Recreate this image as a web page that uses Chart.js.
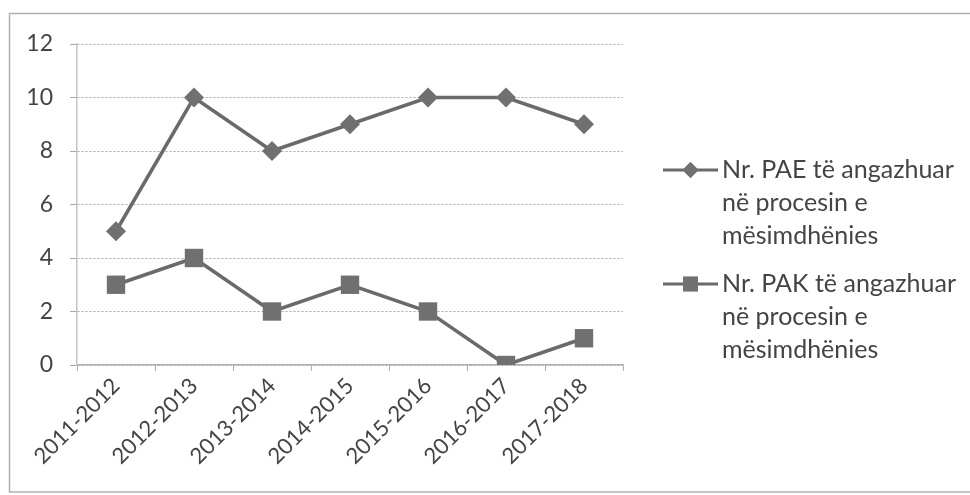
<!DOCTYPE html>
<html>
<head>
<meta charset="utf-8">
<script src="https://cdn.jsdelivr.net/npm/chart.js@4.4.1/dist/chart.umd.min.js"></script>
<style>
    html, body { margin: 0; padding: 0; background: #fff; }
    #wrap { width: 970px; height: 495px; position: relative; }
</style>
</head>
<body>
<div id="wrap"><canvas id="chart" width="970" height="495"></canvas></div>
<script>
// -----------------------------
// DATA
// -----------------------------
const years = ["2011-2012", "2012-2013", "2013-2014", "2014-2015", "2015-2016", "2016-2017", "2017-2018"];
const paeValues = [5, 10, 8, 9, 10, 10, 9];
const pakValues = [3, 4, 2, 3, 2, 0, 1];
const paeLegend = ["Nr. PAE të angazhuar", "në procesin e", "mësimdhënies"];
const pakLegend = ["Nr. PAK të angazhuar", "në procesin e", "mësimdhënies"];

const FONT = "Lato";
const TEXT = "#444";
const LINE = "#6a6a6a";

// -----------------------------
// FRAME + WHITE BACKGROUND
// -----------------------------
const framePlugin = {
    id: "frame",
    beforeDraw(chart) {
        const ctx = chart.ctx;
        ctx.save();
        ctx.fillStyle = "#fff";
        ctx.fillRect(0, 0, chart.width, chart.height);
        ctx.strokeStyle = "#b0b0b0";
        ctx.lineWidth = 1.5;
        ctx.strokeRect(9.5, 13.5, chart.width + 10, 478.5);
        ctx.restore();
    }
};

// -----------------------------
// LEGEND (multi-line labels)
// -----------------------------
const legendPlugin = {
    id: "sideLegend",
    afterDraw(chart) {
        const ctx = chart.ctx;
        const x0 = 663, lineLen = 55, lineH = 33;
        const tops = [170, 284];
        ctx.save();
        chart.data.datasets.forEach((ds, i) => {
            const y = tops[i];
            ctx.strokeStyle = ds.borderColor;
            ctx.lineWidth = 3;
            ctx.beginPath();
            ctx.moveTo(x0, y);
            ctx.lineTo(x0 + lineLen, y);
            ctx.stroke();
            ctx.fillStyle = ds.pointBackgroundColor;
            Chart.helpers.drawPoint(ctx, {
                pointStyle: ds.pointStyle,
                radius: ds.pointRadius * 0.8,
                rotation: 0,
                borderWidth: 0
            }, x0 + lineLen / 2, y);
            ctx.fill();
            ctx.fillStyle = TEXT;
            ctx.font = `25px ${FONT}`;
            ctx.textBaseline = "middle";
            ds.legendLines.forEach((t, k) => {
                ctx.fillText(t, x0 + lineLen + 4, y + k * lineH);
            });
        });
        ctx.restore();
    }
};

// -----------------------------
// CHART
// -----------------------------
new Chart(document.getElementById("chart"), {
    type: "line",
    data: {
        labels: years,
        datasets: [{
            label: paeLegend.join(" "),
            legendLines: paeLegend,
            data: paeValues,
            borderColor: LINE,
            borderWidth: 3.5,
            pointStyle: "rectRot",
            pointRadius: 10,
            pointBackgroundColor: "#707070",
            pointBorderWidth: 0,
            tension: 0
        }, {
            label: pakLegend.join(" "),
            legendLines: pakLegend,
            data: pakValues,
            borderColor: LINE,
            borderWidth: 3.5,
            pointStyle: "rect",
            pointRadius: 13,
            pointBackgroundColor: "#707070",
            pointBorderWidth: 0,
            tension: 0
        }]
    },
    options: {
        responsive: false,
        animation: false,
        layout: { padding: { left: 0, top: 44, right: 347, bottom: 0 } },
        plugins: {
            legend: { display: false },
            tooltip: { enabled: false }
        },
        scales: {
            x: {
                offset: true,
                border: { color: "#b0b0b0", width: 1.5 },
                grid: { offset: true, drawOnChartArea: false, tickLength: 6, color: "#b0b0b0" },
                ticks: {
                    color: TEXT,
                    font: { family: FONT, size: 22 },
                    minRotation: 45,
                    maxRotation: 45,
                    padding: 2
                },
                afterFit(scale) { scale.height = 130; }
            },
            y: {
                min: 0,
                max: 12,
                border: { color: "#c4c4c4", width: 1.5, dash: [2, 2] },
                grid: { color: "#a8a8a8", lineWidth: 1, tickLength: 7 },
                ticks: {
                    stepSize: 2,
                    color: TEXT,
                    font: { family: FONT, size: 23 },
                    padding: 17
                },
                afterFit(scale) { scale.width = 77; }
            }
        }
    },
    plugins: [framePlugin, legendPlugin]
});
</script>
</body>
</html>
